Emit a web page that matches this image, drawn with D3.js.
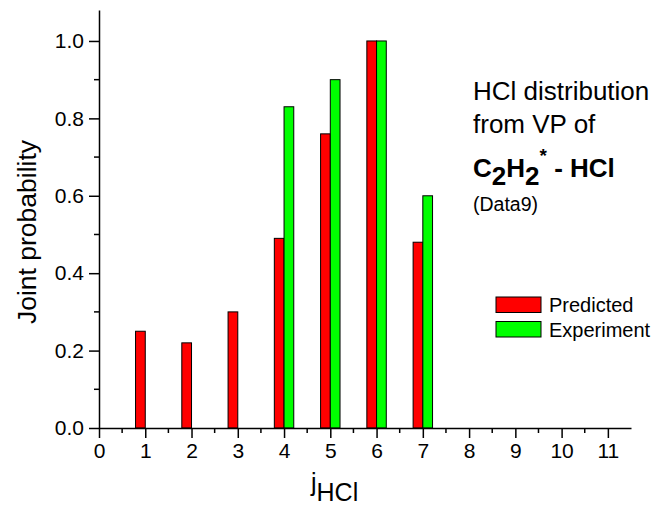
<!DOCTYPE html>
<html><head><meta charset="utf-8">
<script src="https://cdn.jsdelivr.net/npm/d3@7"></script>
<style>body{margin:0;background:#fff}svg{display:block}text{font-family:Arial,"Liberation Sans",sans-serif}</style>
</head><body><svg id="c" width="665" height="507"></svg>
<script>
const jValues = [1, 2, 3, 4, 5, 6, 7];
const predicted = [0.25, 0.22, 0.30, 0.49, 0.76, 1.00, 0.48];
const experiment = [null, null, null, 0.83, 0.90, 1.00, 0.60];
const xTicks = [0,1,2,3,4,5,6,7,8,9,10,11];
const yTicks = [0,0.2,0.4,0.6,0.8,1.0];
const seriesNames = ["Predicted", "Experiment"];
const seriesColors = ["#ff0000", "#00ff00"];

const svg = d3.select("#c");
const x = d3.scaleLinear().domain([0, 11.5]).range([99, 631]);
const y = d3.scaleLinear().domain([0, 1.08]).range([428, 10]);
const bw = 0.21;

const g = svg.append("g");
g.selectAll("rect.p").data(jValues.map((j,i)=>({j,v:predicted[i]})).filter(d=>d.v!=null))
 .enter().append("rect")
 .attr("x", d=>x(d.j-bw)).attr("width", d=>x(bw)-x(0))
 .attr("y", d=>y(d.v)).attr("height", d=>y(0)-y(d.v))
 .attr("fill", seriesColors[0]).attr("stroke","#000").attr("stroke-width",1);
g.selectAll("rect.e").data(jValues.map((j,i)=>({j,v:experiment[i]})).filter(d=>d.v!=null))
 .enter().append("rect")
 .attr("x", d=>x(d.j)).attr("width", d=>x(bw)-x(0))
 .attr("y", d=>y(d.v)).attr("height", d=>y(0)-y(d.v))
 .attr("fill", seriesColors[1]).attr("stroke","#000").attr("stroke-width",1);

const xAxis = d3.axisBottom(x).tickValues(xTicks).tickFormat(d3.format("d")).tickSizeInner(10).tickSizeOuter(0).tickPadding(5);
const xg = svg.append("g").attr("transform","translate(0,428)").call(xAxis);
const xMinor = d3.range(0.5, 11.5, 1);
xg.selectAll("line.minor").data(xMinor).enter().append("line").attr("class","minor")
 .attr("x1",d=>x(d)).attr("x2",d=>x(d)).attr("y1",0).attr("y2",5).attr("stroke","#000").attr("stroke-width",1.5);
const yAxis = d3.axisLeft(y).tickValues(yTicks).tickFormat(d3.format(".1f")).tickSizeInner(10).tickSizeOuter(0).tickPadding(5);
const yg = svg.append("g").attr("transform","translate(99,0)").call(yAxis);
const yMinor = [0.1,0.3,0.5,0.7,0.9];
yg.selectAll("line.minor").data(yMinor).enter().append("line").attr("class","minor")
 .attr("x1",0).attr("x2",-5).attr("y1",d=>y(d)).attr("y2",d=>y(d)).attr("stroke","#000").attr("stroke-width",1.5);
[xg,yg].forEach(a=>{
  a.select(".domain").attr("stroke-width",1.5);
  a.selectAll(".tick line").attr("stroke-width",1.5);
  a.selectAll(".tick text").attr("font-size",21).attr("fill","#000").attr("font-family","Arial, 'Liberation Sans', sans-serif");
});

svg.append("text").attr("transform","translate(36,232) rotate(-90)").attr("text-anchor","middle")
 .attr("font-size",26.5).text("Joint probability");
const xt = svg.append("text").attr("x",311).attr("y",491).attr("font-size",25);
xt.append("tspan").text("j");
xt.append("tspan").attr("dy",10).text("HCl");

svg.append("text").attr("x",473).attr("y",100).attr("font-size",26).text("HCl distribution");
svg.append("text").attr("x",473).attr("y",133).attr("font-size",26).text("from VP of");
const t3 = svg.append("text").attr("x",473).attr("y",177).attr("font-size",26).attr("font-weight","bold");
t3.append("tspan").text("C");
t3.append("tspan").attr("dy",8).text("2");
t3.append("tspan").attr("dy",-8).text("H");
t3.append("tspan").attr("dy",8).text("2");
t3.append("tspan").attr("dy",-23).attr("font-size",19).text("*");
t3.append("tspan").attr("dy",15).text(" - HCl");
svg.append("text").attr("x",473).attr("y",211).attr("font-size",19.5).text("(Data9)");

const lg = svg.append("g");
seriesNames.forEach((n,i)=>{
  lg.append("rect").attr("x",496).attr("y",297+i*24.5).attr("width",45).attr("height",15.5)
   .attr("fill",seriesColors[i]).attr("stroke","#000").attr("stroke-width",1);
  lg.append("text").attr("x",549).attr("y",312+i*24.5).attr("font-size",20).text(n);
});
</script></body></html>
